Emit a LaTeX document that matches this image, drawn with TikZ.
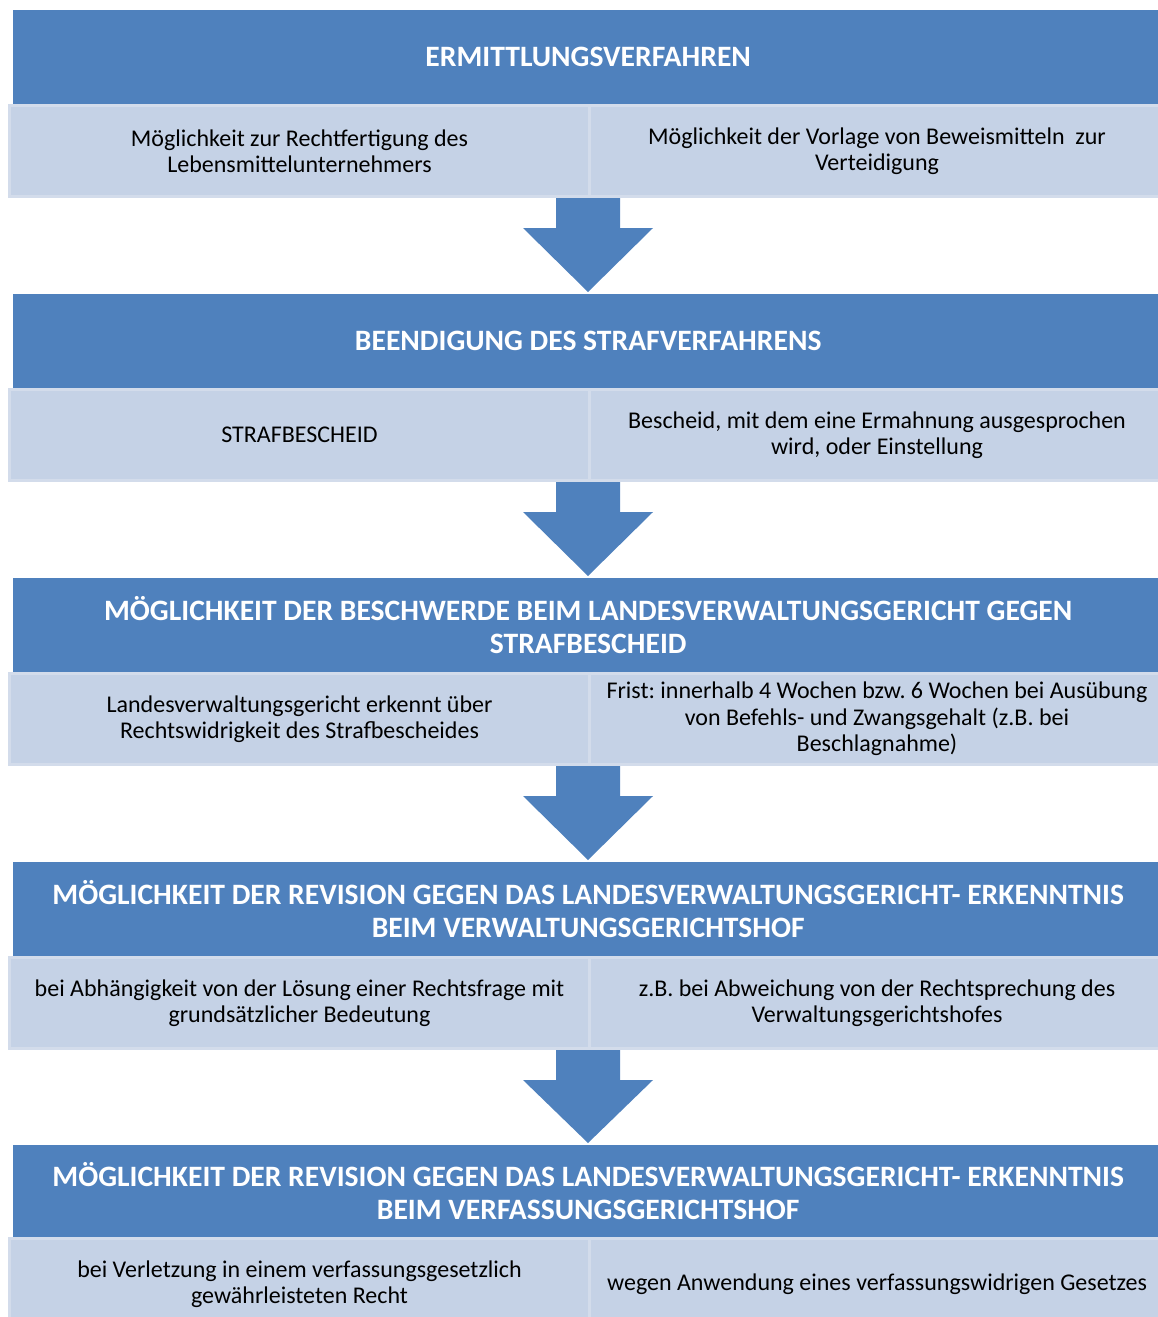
\documentclass[tikz,border=0pt]{standalone}
\usepackage{fontspec}
\setmainfont{Carlito}
\frenchspacing
\usetikzlibrary{calc,positioning}
\definecolor{hdrblue}{HTML}{4F81BD}
\definecolor{cellfill}{HTML}{C5D2E6}
\definecolor{celledge}{HTML}{D3DCEB}

% block arrow from the lower edge of one row down to the next header
\newcommand{\flowarrow}[2]{%
  \fill[hdrblue] let \p1=(#1), \p2=(#2) in
    (\x1-32pt,\y1) -- (\x1+32pt,\y1) -- (\x1+32pt,\y1-30pt) -- (\x1+65pt,\y1-30pt)
    -- (\x1,\y2+2pt) -- (\x1-65pt,\y1-30pt) -- (\x1-32pt,\y1-30pt) -- cycle;}

\begin{document}
\begin{tikzpicture}[x=1pt,y=-1pt,
  head/.style={fill=hdrblue,text=white,font=\fontsize{29.6}{32.5}\selectfont\bfseries,align=center,
    minimum width=1150pt,minimum height=94pt,inner sep=0pt,anchor=north west},
  cell/.style={fill=cellfill,draw=celledge,line width=3pt,font=\fontsize{24}{26.3}\selectfont,align=center,
    minimum height=91pt,inner sep=0pt,anchor=north west},
  lcell/.style={cell,minimum width=580pt},
  rcell/.style={cell,minimum width=575pt}]
  \useasboundingbox (0,0) rectangle (1158,1317);

  % stage 1
  \node[head] (h1) at (13,10) {ERMITTLUNGSVERFAHREN};
  \node[lcell] (s1a) at (8,104) {Möglichkeit zur Rechtfertigung des\\Lebensmittelunternehmers};
  \node[rcell] (s1b) at (588,104) {Möglichkeit der Vorlage von Beweismitteln\ \ zur\\Verteidigung};

  % stage 2
  \node[head] (h2) at (13,294) {BEENDIGUNG DES STRAFVERFAHRENS};
  \node[lcell] (s2a) at (8,388) {STRAFBESCHEID};
  \node[rcell] (s2b) at (588,388) {Bescheid, mit dem eine Ermahnung ausgesprochen\\wird, oder Einstellung};

  % stage 3
  \node[head] (h3) at (13,578) {MÖGLICHKEIT DER BESCHWERDE BEIM LANDESVERWALTUNGSGERICHT GEGEN\\STRAFBESCHEID};
  \node[lcell] (s3a) at (8,672) {Landesverwaltungsgericht erkennt über\\Rechtswidrigkeit des Strafbescheides};
  \node[rcell] (s3b) at (588,672) {Frist: innerhalb 4 Wochen bzw. 6 Wochen bei Ausübung\\von Befehls- und Zwangsgehalt (z.B. bei\\Beschlagnahme)};

  % stage 4
  \node[head] (h4) at (13,862) {MÖGLICHKEIT DER REVISION GEGEN DAS LANDESVERWALTUNGSGERICHT- ERKENNTNIS\\BEIM VERWALTUNGSGERICHTSHOF};
  \node[lcell] (s4a) at (8,956) {bei Abhängigkeit von der Lösung einer Rechtsfrage mit\\grundsätzlicher Bedeutung};
  \node[rcell] (s4b) at (588,956) {z.B. bei Abweichung von der Rechtsprechung des\\Verwaltungsgerichtshofes};

  % stage 5
  \node[head,minimum height=92pt] (h5) at (13,1145) {MÖGLICHKEIT DER REVISION GEGEN DAS LANDESVERWALTUNGSGERICHT- ERKENNTNIS\\BEIM VERFASSUNGSGERICHTSHOF};
  \node[lcell] (s5a) at (8,1237) {bei Verletzung in einem verfassungsgesetzlich\\gewährleisteten Recht};
  \node[rcell] (s5b) at (588,1237) {wegen Anwendung eines verfassungswidrigen Gesetzes};

  \flowarrow{s1b.south west}{h2.north}
  \flowarrow{s2b.south west}{h3.north}
  \flowarrow{s3b.south west}{h4.north}
  \flowarrow{s4b.south west}{h5.north}
\end{tikzpicture}
\end{document}
